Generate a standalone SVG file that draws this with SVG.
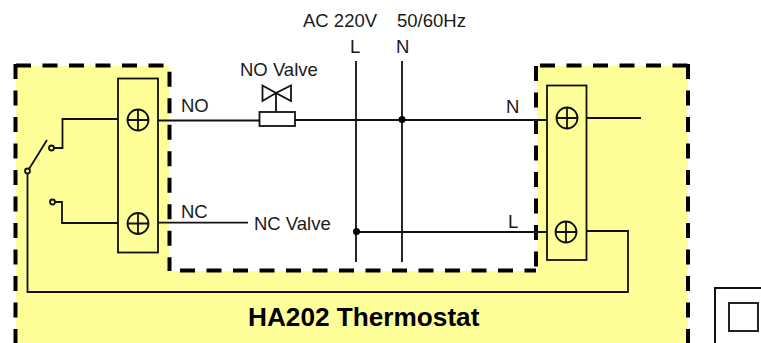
<svg xmlns="http://www.w3.org/2000/svg" width="761" height="343" viewBox="0 0 761 343">
<style>
text{font-family:"Liberation Sans",Arial,sans-serif;font-size:18.500px;fill:#1a1a1a}
.w{fill:none;stroke:#111;stroke-width:1.800}
.t{fill:none;stroke:#111;stroke-width:1.800}
.c{fill:#ffff99;stroke:#111;stroke-width:1.800}
</style>
<g id="thermostat">
<path d="M16 66H169V271H537V66H688V343H16Z" fill="#ffff99" stroke="none"/>
<path d="M15.500 64V343M16 65.500H169M169.500 71.700V271M180 270.500H536M536 66V270M540 65.500H688M688 64V343" fill="none" stroke="#000" stroke-width="4" stroke-dasharray="15 11.500"/>
<text x="248" y="326" style="font-size:26.200px;font-weight:bold;fill:#000">HA202 Thermostat</text>
</g>
<g id="connectors">
<path class="w" d="M157 120.500H259M295 120H546M158 222.700H248M356 232H546M356 61V262M402 61V262"/>
<path class="w" d="M118 119H62.500V148H54M55 202H62V223H118"/>
<path class="w" d="M29 169L47 140M27.500 174V292H628V231H586M586 118H641"/>
<circle cx="402" cy="119.500" r="3.500" fill="#000"/>
<circle cx="356.500" cy="231.500" r="3.500" fill="#000"/>
</g>
<g id="left-block">
<rect x="118" y="78.500" width="40" height="174" fill="none" stroke="#111" stroke-width="1.800"/>
<circle class="t" cx="138" cy="120" r="10.500"/><path class="t" d="M127.500 120H148.500M138 109.500V130.500"/>
<circle class="t" cx="138" cy="223.500" r="10.500"/><path class="t" d="M127.500 223.500H148.500M138 213V234"/>
</g>
<g id="switch">
<circle class="c" cx="51.500" cy="148" r="2.500"/>
<circle class="c" cx="52.500" cy="202" r="2.500"/>
<circle class="c" cx="27.500" cy="171" r="2.500"/>
</g>
<g id="right-block">
<rect x="547" y="85.500" width="39.500" height="174.500" fill="none" stroke="#111" stroke-width="1.800"/>
<circle class="t" cx="567" cy="118" r="10.500"/><path class="t" d="M556.500 118H577.500M567 107.500V128.500"/>
<circle class="t" cx="566" cy="232" r="10.500"/><path class="t" d="M555.500 232H576.500M566 221.500V242.500"/>
</g>
<g id="no-valve">
<rect x="259.500" y="112" width="35.500" height="14" fill="#fff" stroke="#111" stroke-width="1.800"/>
<path class="w" d="M276 112V93M262.500 85.500V101L276 93ZM291 85.500V101L276 93Z"/>
<text x="240" y="76">NO Valve</text>
</g>
<g id="labels">
<text x="303" y="27">AC 220V</text>
<text x="397" y="27">50/60Hz</text>
<text x="350" y="53">L</text>
<text x="396" y="53">N</text>
<text x="181" y="112">NO</text>
<text x="181" y="218">NC</text>
<text x="254" y="230">NC Valve</text>
<text x="506" y="113">N</text>
<text x="508" y="228">L</text>
</g>
<g id="legend">
<path d="M715 343V288H761" fill="none" stroke="#111" stroke-width="2"/>
<rect x="729" y="303" width="29" height="28" fill="#fff" stroke="#222" stroke-width="2"/>
</g>
</svg>
